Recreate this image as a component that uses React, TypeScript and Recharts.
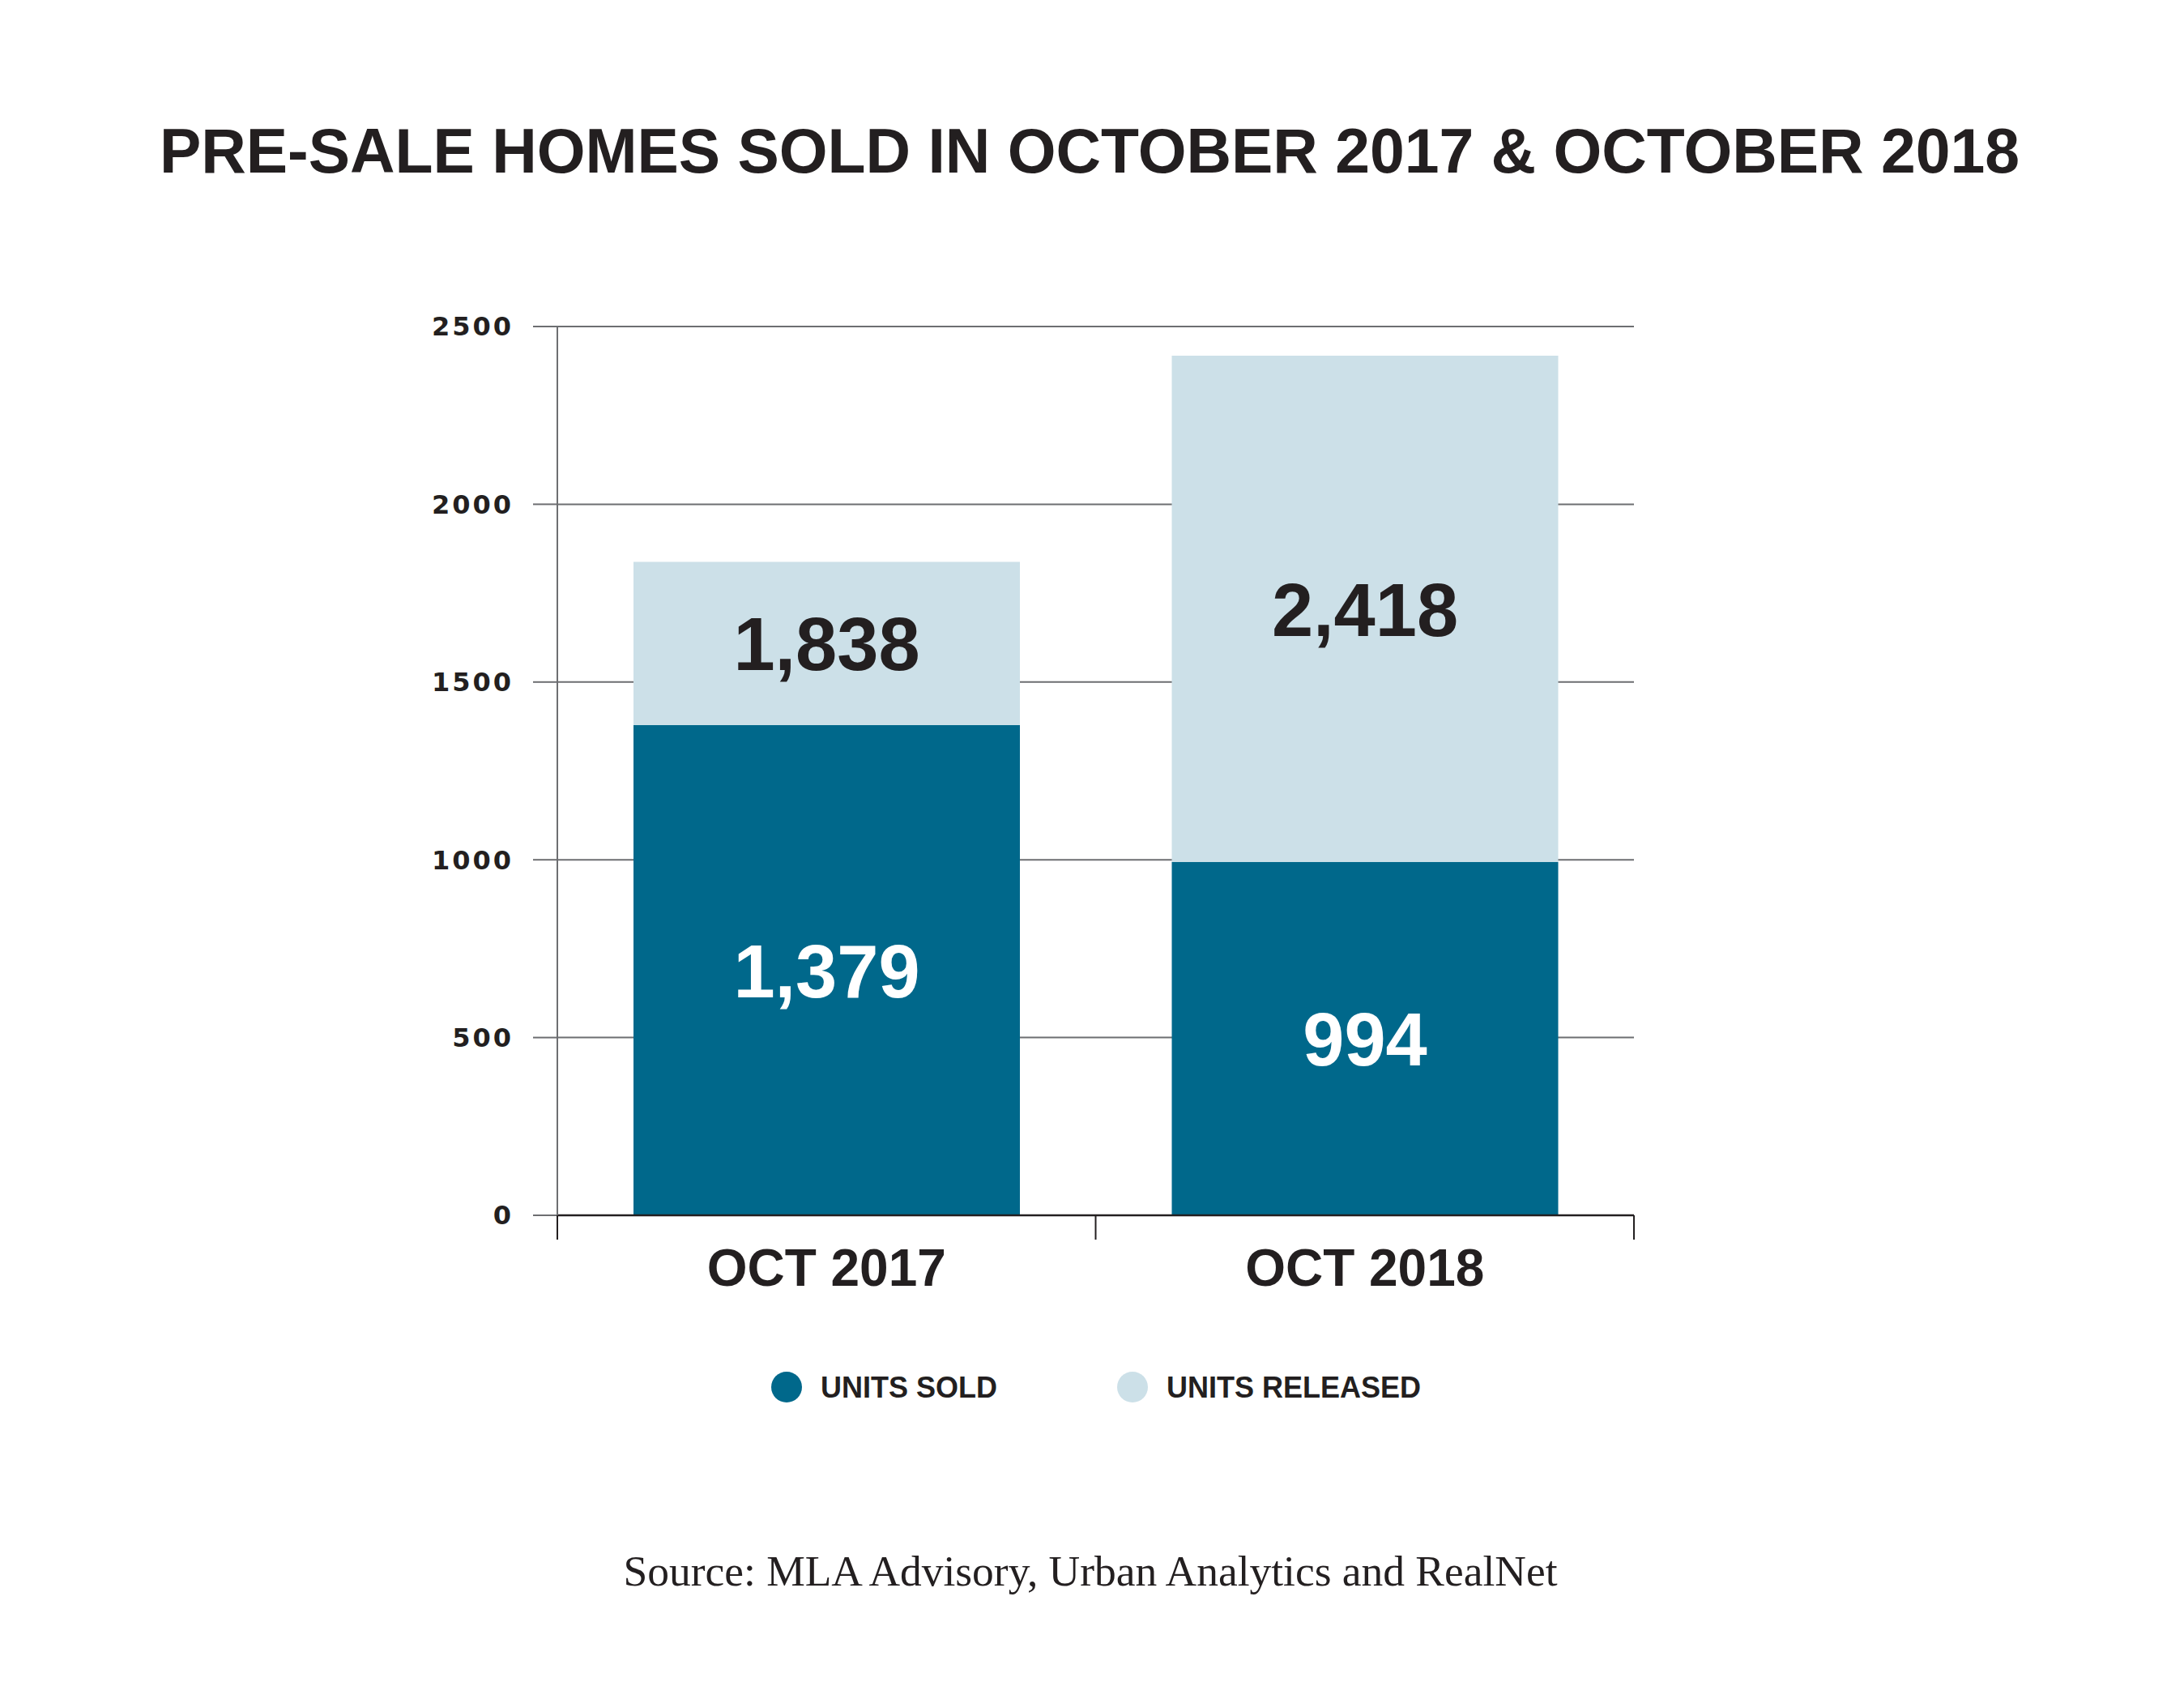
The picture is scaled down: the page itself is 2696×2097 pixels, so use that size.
import React from 'react';
import {
  Bar,
  BarChart,
  CartesianGrid,
  LabelList,
  XAxis,
  YAxis
} from 'recharts';

const categories = ['OCT 2017', 'OCT 2018'];
const unitsSold = [1379, 994];
const unitsReleased = [1838, 2418];
const yTicks = [0, 500, 1000, 1500, 2000, 2500];

const DARK = '#00688b';
const LIGHT = '#cce0e8';
const INK = '#231f20';
const GRID = '#6d6e71';
const SANS = '"Liberation Sans", Arial, sans-serif';

const series = [
  { key: 'sold', name: 'UNITS SOLD', color: DARK },
  { key: 'released', name: 'UNITS RELEASED', color: LIGHT }
];

// released includes the sold units, so the light part on top is the remainder
const data = categories.map((period, i) => ({
  period,
  sold: unitsSold[i],
  rest: unitsReleased[i] - unitsSold[i],
  released: unitsReleased[i]
}));

const fmt = (v: number) => v.toLocaleString('en-US');

const TICK_MARGIN = 42;
const TICK_LEN = 30;

const valueLabel = (color: string) => (p: any) => {
  const { x, y, width, height, value } = p;
  return (
    <text
      x={x + width / 2}
      y={y + height / 2}
      dy="0.36em"
      textAnchor="middle"
      fill={color}
      fontFamily={SANS}
      fontWeight={700}
      fontSize={92}
    >
      {fmt(Number(value))}
    </text>
  );
};

// category label plus tick marks on the band edges (not the band centre)
const CategoryTick = (p: any) => {
  const { x, y, payload, index, width, visibleTicksCount } = p;
  const count = visibleTicksCount || categories.length;
  const half = width / count / 2;
  const top = y - TICK_MARGIN;
  return (
    <g>
      <line x1={x - half} x2={x - half} y1={top} y2={top + TICK_LEN} stroke={INK} strokeWidth={2} />
      {index === count - 1 && (
        <line x1={x + half} x2={x + half} y1={top} y2={top + TICK_LEN} stroke={INK} strokeWidth={2} />
      )}
      <text
        x={x}
        y={y}
        dy="0.71em"
        textAnchor="middle"
        fill={INK}
        fontFamily={SANS}
        fontWeight={700}
        fontSize={64}
      >
        {payload.value}
      </text>
    </g>
  );
};

export default function App() {
  return (
    <div style={{ position: 'absolute', left: 0, top: 0, width: 2696, height: 2097, background: '#fff' }}>
      <BarChart
        width={2696}
        height={2097}
        data={data}
        margin={{ top: 403, right: 679, left: 568, bottom: 497 }}
        barGap={0}
      >
        <CartesianGrid horizontal vertical={false} stroke={GRID} strokeWidth={2} />
        <XAxis
          dataKey="period"
          height={100}
          tickSize={0}
          tickMargin={TICK_MARGIN}
          axisLine={{ stroke: INK, strokeWidth: 2.5 }}
          tickLine={false}
          interval={0}
          tick={<CategoryTick />}
        />
        <YAxis
          width={120}
          domain={[0, 2500]}
          ticks={yTicks}
          interval={0}
          tickSize={30}
          tickMargin={24}
          axisLine={{ stroke: GRID, strokeWidth: 2 }}
          tickLine={{ stroke: GRID, strokeWidth: 2 }}
          tick={{
            fill: INK,
            fontFamily: '"DejaVu Sans", sans-serif',
            fontWeight: 700,
            fontSize: 32,
            letterSpacing: 3
          }}
        />
        <Bar dataKey="sold" stackId="a" fill={DARK} barSize={477} isAnimationActive={false}>
          <LabelList dataKey="sold" content={valueLabel('#ffffff')} />
        </Bar>
        <Bar dataKey="rest" stackId="a" fill={LIGHT} barSize={477} isAnimationActive={false}>
          <LabelList dataKey="released" content={valueLabel(INK)} />
        </Bar>
      </BarChart>

      <svg
        width={2696}
        height={2097}
        style={{ position: 'absolute', left: 0, top: 0, pointerEvents: 'none' }}
      >
        <text
          x={1345}
          y={213}
          textAnchor="middle"
          fill={INK}
          fontFamily={SANS}
          fontWeight={700}
          fontSize={77}
          textLength={2296}
          lengthAdjust="spacingAndGlyphs"
        >
          PRE-SALE HOMES SOLD IN OCTOBER 2017 &amp; OCTOBER 2018
        </text>

        {series.map((s, i) => {
          const cx = i === 0 ? 971 : 1398;
          return (
            <g key={s.key}>
              <circle cx={cx} cy={1712} r={19} fill={s.color} />
              <text
                x={cx + 42}
                y={1725}
                fill={INK}
                fontFamily={SANS}
                fontWeight={700}
                fontSize={36}
              >
                {s.name}
              </text>
            </g>
          );
        })}

        <text
          x={1346}
          y={1957}
          textAnchor="middle"
          fill={INK}
          fontFamily='"Liberation Serif", "Times New Roman", serif'
          fontSize={52}
          textLength={1153}
          lengthAdjust="spacingAndGlyphs"
        >
          Source: MLA Advisory, Urban Analytics and RealNet
        </text>
      </svg>
    </div>
  );
}
